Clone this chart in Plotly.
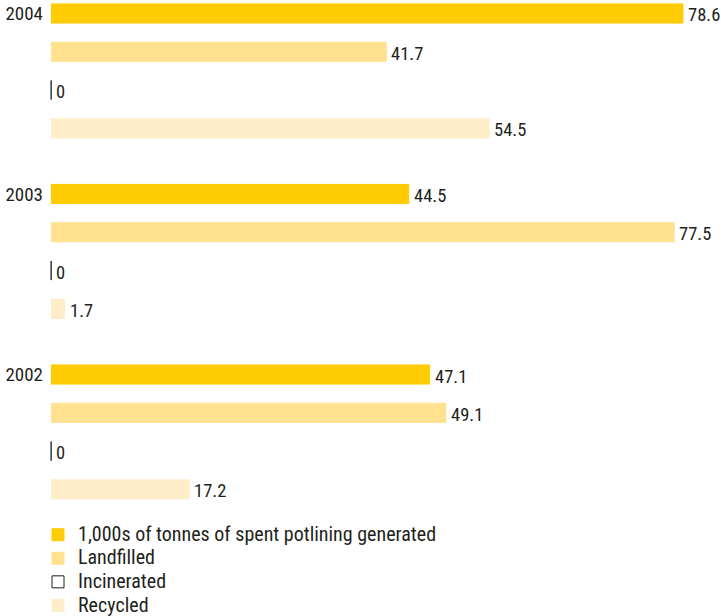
import plotly.graph_objects as go

# ---- data ----
years = ["2004", "2003", "2002"]
series_names = [
    "1,000s of tonnes of spent potlining generated",
    "Landfilled",
    "Incinerated",
    "Recycled",
]
generated = [78.6, 44.5, 47.1]
landfilled = [41.7, 77.5, 49.1]
incinerated = [0, 0, 0]
recycled = [54.5, 1.7, 17.2]

series_values = [generated, landfilled, incinerated, recycled]
fills = ["#FFCB05", "#FFE190", "#FFFFFF", "#FFEDC9"]
outlines = ["#FFCB05", "#FFE190", "#231F20", "#FFEDC9"]

TEXT = "#231F20"
FONT = "Roboto Condensed, Open Sans, sans-serif"

GROUP_STEP = 4.713  # rows between year groups


def pos(g, r):
    return g * GROUP_STEP + r


fig = go.Figure()

for r, (name, vals, fc, lc) in enumerate(zip(series_names, series_values, fills, outlines)):
    ys = [pos(g, r) for g in range(len(years))]
    fig.add_trace(go.Bar(
        orientation="h",
        x=vals,
        y=ys,
        width=0.5,
        name=f'<span style="font-size:20px">{name}</span>',
        marker=dict(color=fc, line=dict(color=lc, width=1)),
        hoverinfo="x",
    ))
    if r == 2:
        # zero-width bars shown as a thin tick at the axis origin
        fig.add_trace(go.Scatter(
            x=vals, y=ys, mode="markers", showlegend=False, hoverinfo="skip",
            marker=dict(symbol="line-ns", size=13.6,
                        line=dict(color="#444444", width=1.3)),
            cliponaxis=False,
        ))
    for g, v in enumerate(vals):
        fig.add_annotation(
            x=v, y=ys[g], xref="x", yref="y",
            text=f"{v:g}",
            showarrow=False, xanchor="left", yanchor="middle",
            xshift=3, yshift=-2,
            font=dict(family=FONT, size=18.5, color=TEXT),
        )

fig.update_layout(
    width=721, height=616,
    margin=dict(l=51, r=0, t=0, b=111, autoexpand=False),
    paper_bgcolor="white", plot_bgcolor="white",
    barmode="overlay",
    showlegend=True,
    legend=dict(
        x=-0.0194, y=-0.0257, xanchor="left", yanchor="top",
        font=dict(family=FONT, size=15.8, color=TEXT),
        traceorder="normal", bgcolor="rgba(0,0,0,0)",
    ),
    xaxis=dict(range=[0, 83.33], visible=False, fixedrange=True),
    yaxis=dict(
        range=[pos(2, 3) + 0.407, -0.352],
        tickvals=[pos(g, 0) for g in range(len(years))],
        ticktext=years,
        showgrid=False, zeroline=False, showline=False, ticks="",
        ticklabelstandoff=7, automargin=False,
        tickfont=dict(family=FONT, size=19, color=TEXT),
        fixedrange=True,
    ),
)

fig.write_html("out.html")
